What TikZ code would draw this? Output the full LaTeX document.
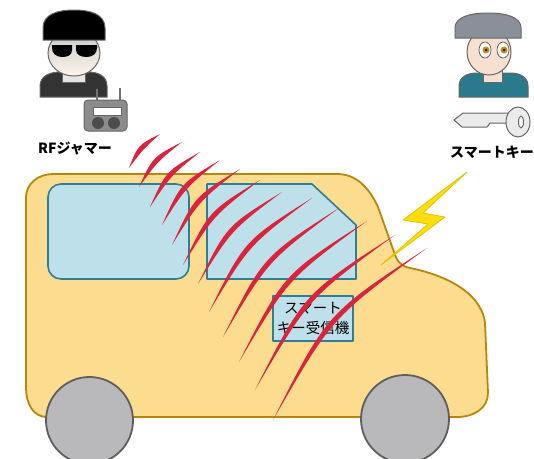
\documentclass[tikz,border=0pt]{standalone}
\usepackage{fontspec}
\usetikzlibrary{calc}
\newfontfamily\jpfont{Noto Sans CJK JP}
\definecolor{carfill}{HTML}{FCDC8F}
\definecolor{carline}{HTML}{B8860B}
\definecolor{glass}{HTML}{BEE0EA}
\definecolor{glassline}{HTML}{2F7E98}
\definecolor{tyre}{HTML}{B9B9BC}
\definecolor{tyreline}{HTML}{5E5E5E}
\definecolor{wavered}{HTML}{D8243C}
\definecolor{boltfill}{HTML}{FBDD10}
\definecolor{boltline}{HTML}{E2C200}
\definecolor{capgray}{HTML}{8A909A}
\definecolor{skin}{HTML}{F7DFD2}
\definecolor{shirt}{HTML}{2A7A8C}
\definecolor{iris}{HTML}{C8900A}
\tikzset{
  body/.style={fill=carfill, draw=carline, line width=1.8pt, line join=round},
  pane/.style={fill=glass, draw=glassline, line width=1.6pt, line join=round},
  wheel/.style={fill=tyre, draw=tyreline, line width=1.8pt},
  wave/.style={fill=wavered},
  icon/.style={draw=black!60, line width=1pt},
  caption/.style={font=\jpfont\bfseries\fontsize{14}{16}\selectfont, inner sep=0pt}
}
\begin{document}
\begin{tikzpicture}[x=1pt,y=-1pt]
\useasboundingbox (0,0) rectangle (534,458);

% car body
\draw[body] (26,197) .. controls (26,184) and (38,174) .. (53,174)
  -- (337,174) .. controls (358,174) and (370,190) .. (378,207)
  -- (394,252) .. controls (397,262) and (401,266) .. (410,268)
  .. controls (440,274) and (481,290) .. (485,323)
  -- (488,393) .. controls (488,408) and (474,417) .. (457,417)
  -- (47,417) .. controls (34,417) and (26,405) .. (26,387) -- cycle;

% windows
\draw[pane, rounded corners=13pt] (48,184) rectangle (189,279);
\draw[pane] (207,184) -- (312,184) -- (356,225) -- (356,279) -- (207,279) -- cycle;

% receiver
\node[pane, minimum width=80pt, minimum height=45pt, inner sep=0pt, line width=1.4pt,
      align=center, font=\jpfont\fontsize{14.5}{20}\selectfont] (rx) at (313,318.5)
      {スマート\\キー受信機};

% wheels
\draw[wheel] (89.5,420.5) circle (43.5);
\draw[wheel] (405,419) circle (44);

% radio waves
\foreach \ax/\ay/\bx/\by in {129/168/160/134, 139/187/182/142, 150/207/200/152,
    162/225/220/160, 172/245/240/169, 183/265/260/180, 198/284/282/192,
    209/312/312/198, 223/337/339/208, 239/362/367/221, 255/390/395/235,
    273/420/427/248} {
  \coordinate (wa) at (\ax,\ay);
  \coordinate (wb) at (\bx,\by);
  \coordinate (wm) at ($(wa)!0.5!(wb)$);
  \coordinate (wk) at ($(wm)!0.24!90:(wb)$);
  \fill[wave] (wa) .. controls ($(wk)!-3.3pt!(wm)$) .. (wb)
              .. controls ($(wk)!3.3pt!(wm)$) .. (wa) -- cycle;
}

% lightning bolt
\draw[fill=boltfill, draw=boltline, line width=0.8pt, line join=round]
  (467,172) -- (403,220) -- (428,224) -- (381,265) -- (445,217) -- (423,213) -- cycle;

% jammer person
\draw[icon, fill=black!80] (40,97) -- (40,86) .. controls (40,76) and (50,72) .. (60,72)
  -- (88,72) .. controls (98,72) and (107,76) .. (107,86) -- (107,97) -- cycle;
\draw[icon, fill=black!10] (62,66) rectangle (85,82);
\shade[top color=black!22, bottom color=orange!8, draw=black!60, line width=1pt]
  (74,53) ellipse (26 and 23);
\draw[icon, fill=black] (43,40) -- (43,28) .. controls (43,14) and (58,10) .. (74,10)
  .. controls (90,10) and (105,14) .. (105,28) -- (105,40) -- cycle;
\fill[black] (52,45) -- (72,45) -- (72,50) .. controls (72,55) and (68,57) .. (62,57)
  .. controls (56,57) and (52,53) .. (52,48) -- cycle;
\fill[black] (76,45) -- (97,45) -- (97,48) .. controls (97,53) and (93,57) .. (87,57)
  .. controls (81,57) and (76,55) .. (76,50) -- cycle;
% radio
\draw[black!55, line width=1.2pt] (97,102) -- (97,89);
\draw[black!55, line width=1.2pt] (120,102) -- (120,88);
\draw[icon, fill=black!45, rounded corners=4pt] (84,100) rectangle (127,131);
\draw[icon, fill=white] (93,107) rectangle (121,115);
\fill[black!70] (98,123) circle (6);
\fill[black!70] (114,123) circle (6);
\node[caption] (jam) at (75,148) {RFジャマー};

% owner person
\draw[icon, fill=shirt] (459,97) -- (459,86) .. controls (459,77) and (467,73) .. (477,73)
  -- (510,73) .. controls (520,73) and (528,77) .. (528,86) -- (528,97) -- cycle;
\draw[icon, fill=skin] (483,66) rectangle (502,82);
\draw[icon, fill=skin] (489,52) ellipse (22 and 23);
\draw[icon, fill=capgray] (455,38) -- (455,28) .. controls (455,17) and (470,13) .. (488,13)
  .. controls (506,13) and (521,17) .. (521,28) -- (521,38) -- cycle;
\foreach \ex in {485,503} {
  \draw[black!60, fill=white, line width=0.8pt] (\ex,50) ellipse (6 and 8);
  \fill[iris] (\ex+1,50) circle (3.5);
  \fill[black!80!brown] (\ex+1,50) circle (1.5);
}
% key
\draw[icon, fill=black!8, line join=round] (510,113) -- (463,113) -- (454,120) -- (462,127)
  -- (487,127) -- (490,123) -- (510,123);
\draw[icon, fill=black!8] (518,122) ellipse (12 and 15);
\draw[icon, fill=white] (521,122) ellipse (2.5 and 6);
\node[caption] (key) at (492,152) {スマートキー};
\end{tikzpicture}
\end{document}
